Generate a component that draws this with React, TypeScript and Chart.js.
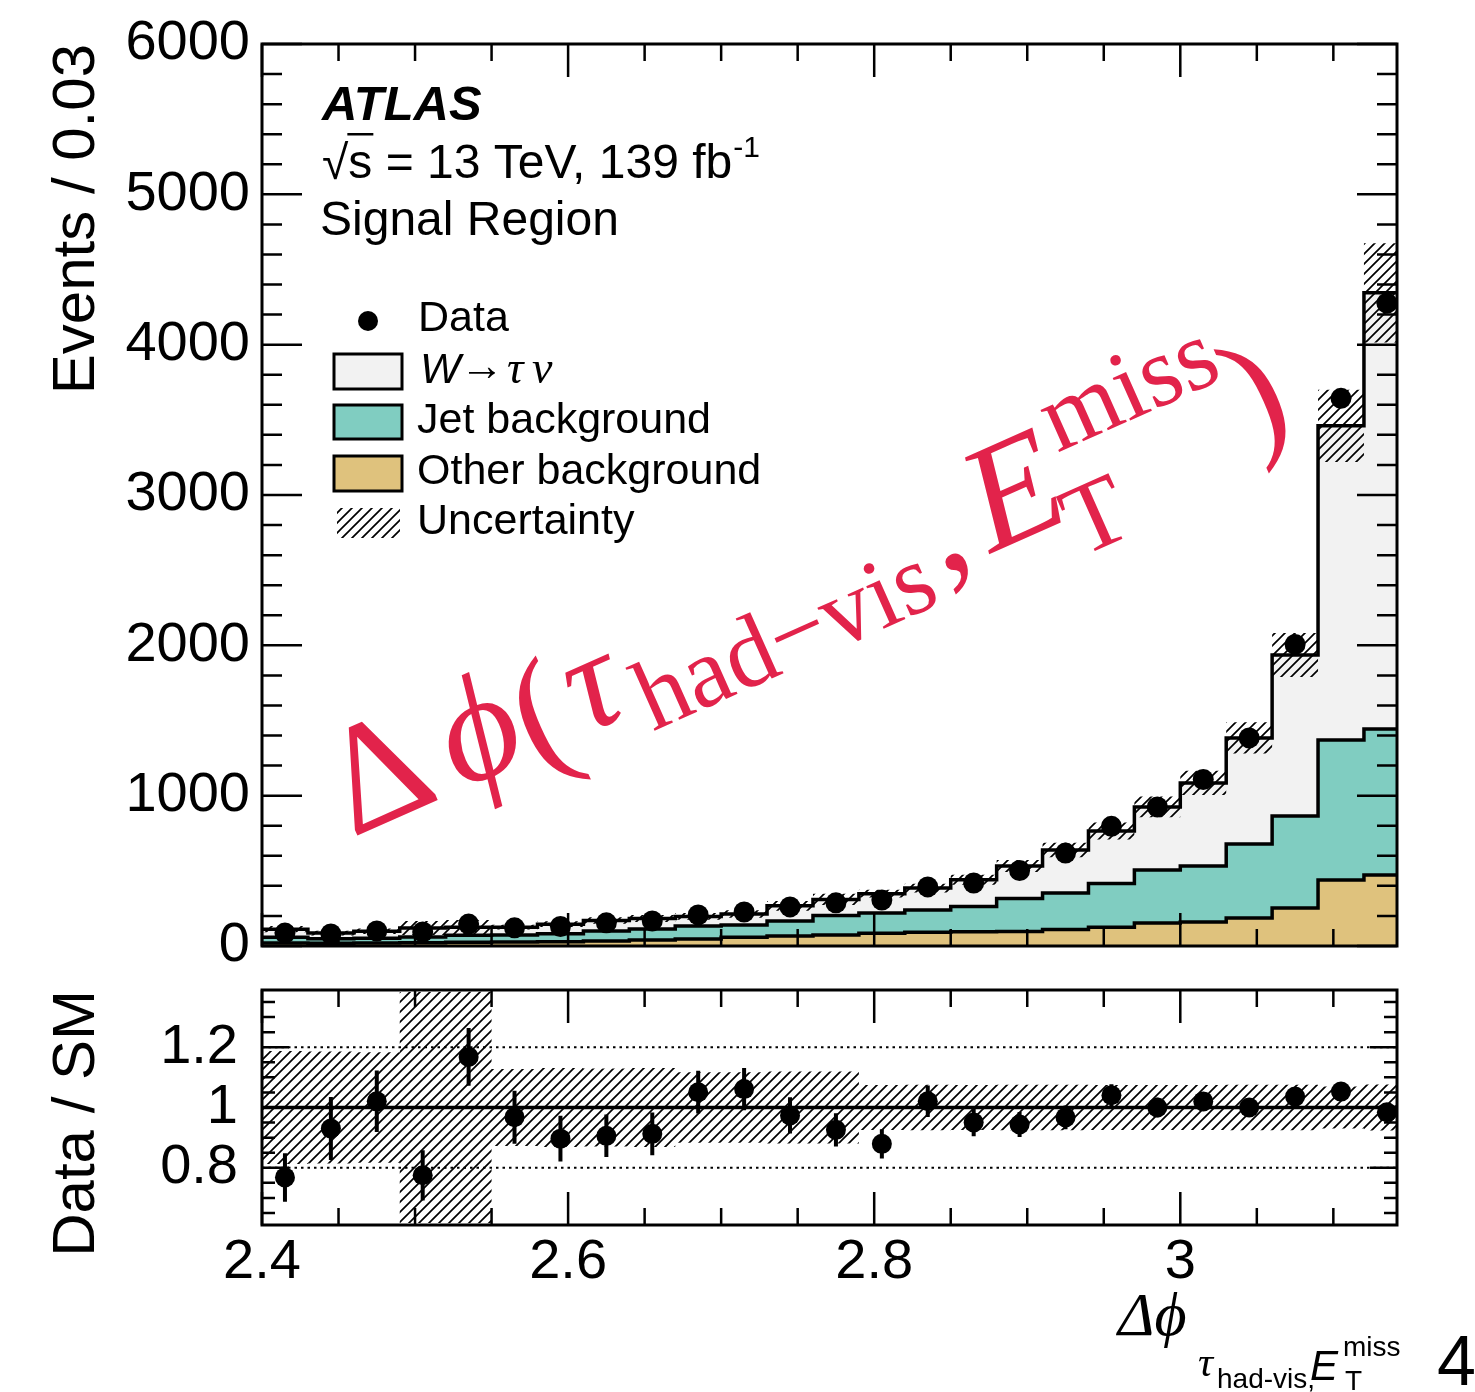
import React, { useEffect, useRef } from 'react';
import { Chart, registerables } from 'chart.js';
Chart.register(...registerables);

// ---------------- data ----------------
const BIN_EDGES = [2.40, 2.43, 2.46, 2.49, 2.52, 2.55, 2.58, 2.61, 2.64, 2.67, 2.70, 2.73, 2.76, 2.79, 2.82, 2.85, 2.88, 2.91, 2.94, 2.97, 3.00, 3.03, 3.06, 3.09, 3.12, 3.15];
const OTHER_BKG = [20, 18, 20, 22, 25, 27, 28, 33, 40, 46, 58, 66, 73, 84, 92, 94, 96, 110, 125, 153, 160, 186, 253, 439, 472];
const JET_BKG = [38, 30, 32, 38, 47, 47, 54, 67, 73, 87, 82, 100, 130, 136, 148, 168, 220, 243, 291, 353, 372, 493, 612, 932, 972];
const W_TAUNU = [54, 38, 46, 60, 53, 51, 63, 70, 70, 64, 73, 101, 107, 128, 145, 179, 216, 286, 349, 419, 553, 705, 1071, 2089, 2901];
const DATA = [86, 80, 100, 93, 146, 121, 130, 154, 167, 207, 226, 260, 287, 306, 393, 419, 502, 618, 796, 925, 1107, 1384, 2006, 3643, 4276];
const DATA_ERR = [9, 9, 10, 10, 12, 11, 11, 12, 13, 14, 15, 16, 17, 17, 20, 20, 22, 25, 28, 30, 33, 37, 45, 60, 65];
const MC_UNC = [21, 16, 18, 46, 48, 16, 19, 22, 24, 23, 25, 32, 37, 26, 29, 33, 40, 48, 57, 69, 81, 104, 146, 240, 330];

const X_MIN = 2.4;
const X_MAX = Math.PI;
const Y_MAX = 6000;
const RATIO_MIN = 0.61;
const RATIO_MAX = 1.39;
const X_TICK_LABELS = [2.4, 2.6, 2.8, 3.0];
const Y_TICK_LABELS = [0, 1000, 2000, 3000, 4000, 5000, 6000];
const RATIO_TICK_LABELS = [0.8, 1.0, 1.2];
const RATIO_REF_LINES = [0.8, 1.2];

// ---------------- styles ----------------
const FONT = '"Liberation Sans", Arial, Helvetica, sans-serif';
const SERIF = '"Liberation Serif", "DejaVu Serif", "Times New Roman", serif';
const RED = 'rgb(226, 35, 75)';
const C_W = '#f2f2f2';
const C_JET = '#80cdc1';
const C_OTHER = '#dfc27d';
const MAIN_TOP = -2;
const RATIO_TOP = 932;

function makeHatch(): any {
  const c = document.createElement('canvas');
  c.width = 10;
  c.height = 10;
  const g = c.getContext('2d')!;
  g.strokeStyle = '#000';
  g.lineWidth = 1.7;
  g.beginPath();
  g.moveTo(0, 10); g.lineTo(10, 0);
  g.moveTo(-2, 2); g.lineTo(2, -2);
  g.moveTo(8, 12); g.lineTo(12, 8);
  g.stroke();
  return g.createPattern(c, 'repeat');
}

function range(a: number, b: number, step: number) {
  const out: number[] = [];
  for (let k = 0; a + k * step <= b + 1e-9; k++) out.push(+(a + k * step).toFixed(5));
  return out;
}

function isMult(v: number, m: number, off = 0) {
  const q = (v - off) / m;
  return Math.abs(q - Math.round(q)) < 1e-6;
}

function makeFrameTicks(xTicks: { v: number; len: number }[], yTicks: { v: number; len: number }[]) {
  return {
    id: 'frameTicks',
    afterDraw(chart: any) {
      const { ctx, chartArea: a } = chart;
      const xs = chart.scales.x;
      const ys = chart.scales.y;
      ctx.save();
      ctx.strokeStyle = '#000';
      ctx.lineWidth = 2.5;
      ctx.beginPath();
      for (const t of xTicks) {
        const px = xs.getPixelForValue(t.v);
        if (px < a.left - 0.5 || px > a.right + 0.5) continue;
        ctx.moveTo(px, a.bottom); ctx.lineTo(px, a.bottom - t.len);
        ctx.moveTo(px, a.top); ctx.lineTo(px, a.top + t.len);
      }
      for (const t of yTicks) {
        const py = ys.getPixelForValue(t.v);
        if (py < a.top - 0.5 || py > a.bottom + 0.5) continue;
        ctx.moveTo(a.left, py); ctx.lineTo(a.left + t.len, py);
        ctx.moveTo(a.right, py); ctx.lineTo(a.right - t.len, py);
      }
      ctx.stroke();
      ctx.lineWidth = 3;
      ctx.strokeRect(a.left, a.top, a.right - a.left, a.bottom - a.top);
      ctx.restore();
    },
  };
}

function makeMainText(hatch: any) {
  return {
    id: 'mainText',
    afterDraw(chart: any) {
      const ctx: CanvasRenderingContext2D = chart.ctx;
      const o = MAIN_TOP;
      ctx.save();
      ctx.translate(0, -o);
      ctx.fillStyle = '#000';
      ctx.textAlign = 'left';
      ctx.textBaseline = 'alphabetic';
      // ATLAS label
      ctx.font = `italic bold 49px ${FONT}`;
      ctx.fillText('ATLAS', 322, 120);
      ctx.font = `48px ${FONT}`;
      let x = 322;
      ctx.fillText('√', x, 179);
      x += ctx.measureText('√').width;
      const sW = ctx.measureText('s').width;
      ctx.fillText('s', x, 178);
      ctx.fillRect(x - 1, 133, sW + 2, 2.5);
      x += sW;
      const rest = ' = 13 TeV, 139 fb';
      ctx.fillText(rest, x, 178);
      x += ctx.measureText(rest).width;
      ctx.font = `30px ${FONT}`;
      ctx.fillText('-1', x + 1, 157);
      ctx.font = `48px ${FONT}`;
      ctx.fillText('Signal Region', 320, 235);

      // legend
      ctx.beginPath();
      ctx.arc(368, 321, 10, 0, Math.PI * 2);
      ctx.fill();
      ctx.font = `43px ${FONT}`;
      ctx.fillText('Data', 418, 331);
      const box = (y: number, h: number, color: string) => {
        ctx.fillStyle = color;
        ctx.fillRect(334, y, 68, h);
        ctx.strokeStyle = '#000';
        ctx.lineWidth = 3;
        ctx.strokeRect(334, y, 68, h);
        ctx.fillStyle = '#000';
      };
      box(354, 35, C_W);
      ctx.font = `italic 43px ${FONT}`;
      ctx.fillText('W', 420, 383);
      ctx.font = `44px ${SERIF}`;
      ctx.fillText('→', 460, 380);
      ctx.font = `italic 46px ${SERIF}`;
      ctx.fillText('τ', 507, 383);
      ctx.fillText('ν', 532, 383);
      box(405, 34, C_JET);
      ctx.font = `43px ${FONT}`;
      ctx.fillText('Jet background', 417, 433);
      box(456, 35, C_OTHER);
      ctx.fillText('Other background', 417, 484);
      ctx.fillStyle = hatch;
      ctx.fillRect(337, 508, 63, 30);
      ctx.fillStyle = '#000';
      ctx.fillText('Uncertainty', 417, 534);

      // red annotation
      ctx.translate(352, 838);
      ctx.rotate((-24 * Math.PI) / 180);
      ctx.fillStyle = RED;
      const put = (txt: string, font: string, u: number, v: number, align: CanvasTextAlign = 'left') => {
        ctx.font = font;
        ctx.textAlign = align;
        ctx.fillText(txt, u, -v);
      };
      put('Δ', `155px ${SERIF}`, 0, 0);
      put('ϕ', `italic 150px ${SERIF}`, 158, 0, 'center');
      put('(', `150px ${SERIF}`, 222, -12, 'center');
      put('τ', `italic 140px ${SERIF}`, 280, 0, 'center');
      put('had−vis', `100px ${SERIF}`, 318, -25);
      put(',', `150px ${SERIF}`, 645, 0);
      put('E', `italic 150px ${SERIF}`, 745, 0, 'center');
      put('T', `100px ${SERIF}`, 780, -40);
      put('miss', `100px ${SERIF}`, 801, 65);
      put(')', `150px ${SERIF}`, 1006, -8, 'center');
      ctx.restore();
    },
  };
}

const ratioText = {
  id: 'ratioText',
  afterDraw(chart: any) {
    const ctx: CanvasRenderingContext2D = chart.ctx;
    const o = RATIO_TOP;
    ctx.save();
    ctx.fillStyle = '#000';
    ctx.textAlign = 'left';
    ctx.textBaseline = 'alphabetic';
    ctx.font = `italic 62px ${SERIF}`;
    ctx.fillText('Δϕ', 1118, 1335 - o);
    ctx.font = `italic 42px ${SERIF}`;
    ctx.fillText('τ', 1198, 1376 - o);
    ctx.font = `28px ${FONT}`;
    ctx.fillText('had-vis,', 1217, 1388 - o);
    ctx.font = `italic 42px ${FONT}`;
    ctx.fillText('E', 1310, 1380 - o);
    ctx.font = `28px ${FONT}`;
    ctx.fillText('miss', 1343, 1356 - o);
    ctx.fillText('T', 1345, 1390 - o);
    ctx.font = `70px ${FONT}`;
    ctx.fillText('4', 1437, 1385 - o);
    ctx.restore();
  },
};

// ---------------- derived tables ----------------
const centers = DATA.map((_, i) => (BIN_EDGES[i] + BIN_EDGES[i + 1]) / 2);
const jetCum = JET_BKG.map((v, i) => v + OTHER_BKG[i]);
const total = W_TAUNU.map((v, i) => v + jetCum[i]);
const step = (vals: number[]) => [
  ...vals.map((v, i) => ({ x: BIN_EDGES[i], y: v })),
  { x: BIN_EDGES[vals.length], y: vals[vals.length - 1] },
];
const errSegments = (vals: number[], errs: number[]) => {
  const out: any[] = [];
  vals.forEach((v, i) => {
    out.push({ x: centers[i], y: v - errs[i] });
    out.push({ x: centers[i], y: v + errs[i] });
    out.push({ x: centers[i], y: null });
  });
  return out;
};
const ratio = DATA.map((d, i) => d / total[i]);
const ratioErr = DATA_ERR.map((e, i) => e / total[i]);
const bandRel = MC_UNC.map((u, i) => u / total[i]);

const X_TICKS = range(2.4, 3.15, 0.05).map((v) => ({ v, len: isMult(v, 0.2) ? 33 : 17 }));
const Y_TICKS = range(0, 6000, 200).map((v) => ({ v, len: isMult(v, 1000) ? 40 : 20 }));
const R_TICKS = range(0.6, 1.4, 0.05).map((v) => ({ v, len: isMult(v, 0.2, 0.6) ? 27 : 13 }));

export default function App() {
  const mainRef = useRef<HTMLCanvasElement>(null);
  const ratioRef = useRef<HTMLCanvasElement>(null);

  useEffect(() => {
    const hatch = makeHatch();
    const histDs = (label: string, vals: number[], color: string) => ({
      label,
      data: step(vals),
      stepped: true,
      borderColor: '#000',
      borderWidth: 3.5,
      pointRadius: 0,
      fill: 'origin',
      backgroundColor: color,
    });

    const main = new Chart(mainRef.current!, {
      type: 'line',
      data: {
        datasets: [
          {
            label: 'Data',
            data: DATA.map((v, i) => ({ x: centers[i], y: v })),
            showLine: false,
            pointRadius: 10.5,
            pointBackgroundColor: '#000',
            pointBorderWidth: 0,
            borderColor: '#000',
          },
          {
            label: 'DataErr',
            data: errSegments(DATA, DATA_ERR),
            borderColor: '#000',
            borderWidth: 4,
            pointRadius: 0,
            spanGaps: false,
            fill: false,
          },
          {
            label: 'UncUp',
            data: step(total.map((t, i) => t + MC_UNC[i])),
            stepped: true,
            borderColor: 'rgba(0,0,0,0)',
            borderWidth: 1,
            pointRadius: 0,
            fill: '+1',
            backgroundColor: hatch,
          },
          {
            label: 'UncDown',
            data: step(total.map((t, i) => t - MC_UNC[i])),
            stepped: true,
            borderColor: 'rgba(0,0,0,0)',
            borderWidth: 1,
            pointRadius: 0,
            fill: false,
          },
          histDs('Other background', OTHER_BKG, C_OTHER),
          histDs('Jet background', jetCum, C_JET),
          histDs('W→τν', total, C_W),
        ] as any,
      },
      options: {
        responsive: false,
        maintainAspectRatio: false,
        devicePixelRatio: 1,
        animation: false,
        events: [],
        layout: { padding: { left: 0, top: 44 - MAIN_TOP, right: 78, bottom: 1000 + MAIN_TOP - 946 } },
        plugins: { legend: { display: false }, tooltip: { enabled: false } },
        scales: {
          x: { type: 'linear', min: X_MIN, max: X_MAX, display: false },
          y: {
            type: 'linear',
            min: 0,
            max: Y_MAX,
            position: 'left',
            afterBuildTicks: (s: any) => {
              s.ticks = Y_TICK_LABELS.map((v) => ({ value: v }));
            },
            afterFit: (s: any) => {
              s.width = 262;
            },
            grid: { display: false, drawTicks: false },
            border: { display: false },
            ticks: {
              font: { family: FONT, size: 56 },
              color: '#000',
              padding: 12,
              autoSkip: false,
              callback: (v: any) => String(v),
            },
            title: {
              display: true,
              text: 'Events / 0.03',
              font: { family: FONT, size: 60 },
              color: '#000',
              align: 'end',
              padding: { top: 41, bottom: 0 },
            },
          },
        },
      } as any,
      plugins: [makeFrameTicks(X_TICKS, Y_TICKS), makeMainText(hatch)],
    });

    const ratioChart = new Chart(ratioRef.current!, {
      type: 'line',
      data: {
        datasets: [
          {
            label: 'Ratio',
            data: ratio.map((v, i) => ({ x: centers[i], y: v })),
            showLine: false,
            pointRadius: 10,
            pointBackgroundColor: '#000',
            pointBorderWidth: 0,
            borderColor: '#000',
          },
          {
            label: 'RatioErr',
            data: errSegments(ratio, ratioErr),
            borderColor: '#000',
            borderWidth: 4,
            pointRadius: 0,
            spanGaps: false,
            fill: false,
          },
          {
            label: 'One',
            data: [{ x: X_MIN, y: 1 }, { x: X_MAX, y: 1 }],
            borderColor: '#000',
            borderWidth: 3.5,
            pointRadius: 0,
            fill: false,
          },
          ...RATIO_REF_LINES.map((r) => ({
            label: 'Ref' + r,
            data: [{ x: X_MIN, y: r }, { x: X_MAX, y: r }],
            borderColor: '#000',
            borderWidth: 2,
            borderDash: [2.5, 4],
            pointRadius: 0,
            fill: false,
          })),
          {
            label: 'BandUp',
            data: step(bandRel.map((b) => 1 + b)),
            stepped: true,
            borderColor: 'rgba(0,0,0,0)',
            borderWidth: 1,
            pointRadius: 0,
            fill: '+1',
            backgroundColor: hatch,
          },
          {
            label: 'BandDown',
            data: step(bandRel.map((b) => 1 - b)),
            stepped: true,
            borderColor: 'rgba(0,0,0,0)',
            borderWidth: 1,
            pointRadius: 0,
            fill: false,
          },
        ] as any,
      },
      options: {
        responsive: false,
        maintainAspectRatio: false,
        devicePixelRatio: 1,
        animation: false,
        events: [],
        layout: { padding: { left: 0, top: 990 - RATIO_TOP, right: 78, bottom: 0 } },
        plugins: { legend: { display: false }, tooltip: { enabled: false } },
        scales: {
          x: {
            type: 'linear',
            min: X_MIN,
            max: X_MAX,
            position: 'bottom',
            afterBuildTicks: (s: any) => {
              s.ticks = X_TICK_LABELS.map((v) => ({ value: v }));
            },
            afterFit: (s: any) => {
              s.height = 1392 - 1225;
            },
            grid: { display: false, drawTicks: false },
            border: { display: false },
            ticks: {
              font: { family: FONT, size: 56 },
              color: '#000',
              padding: 4,
              maxRotation: 0,
              autoSkip: false,
              callback: (v: any) => (Number.isInteger(v) ? String(v) : Number(v).toFixed(1)),
            },
          },
          y: {
            type: 'linear',
            min: RATIO_MIN,
            max: RATIO_MAX,
            position: 'left',
            afterBuildTicks: (s: any) => {
              s.ticks = RATIO_TICK_LABELS.map((v) => ({ value: v }));
            },
            afterFit: (s: any) => {
              s.width = 262;
            },
            grid: { display: false, drawTicks: false },
            border: { display: false },
            ticks: {
              font: { family: FONT, size: 56 },
              color: '#000',
              padding: 24,
              autoSkip: false,
              callback: (v: any) => (v === 1 ? '1' : Number(v).toFixed(1)),
            },
            title: {
              display: true,
              text: 'Data / SM',
              font: { family: FONT, size: 60 },
              color: '#000',
              align: 'end',
              padding: { top: 41, bottom: 0 },
            },
          },
        },
      } as any,
      plugins: [makeFrameTicks(X_TICKS, R_TICKS), ratioText],
    });

    return () => {
      main.destroy();
      ratioChart.destroy();
    };
  }, []);

  return (
    <div style={{ position: 'absolute', left: 0, top: 0, width: 1475, height: 1392, background: '#fff', overflow: 'hidden' }}>
      <canvas ref={mainRef} width={1475} height={1000} style={{ position: 'absolute', left: 0, top: MAIN_TOP }} />
      <canvas ref={ratioRef} width={1475} height={1392 - RATIO_TOP} style={{ position: 'absolute', left: 0, top: RATIO_TOP }} />
    </div>
  );
}
